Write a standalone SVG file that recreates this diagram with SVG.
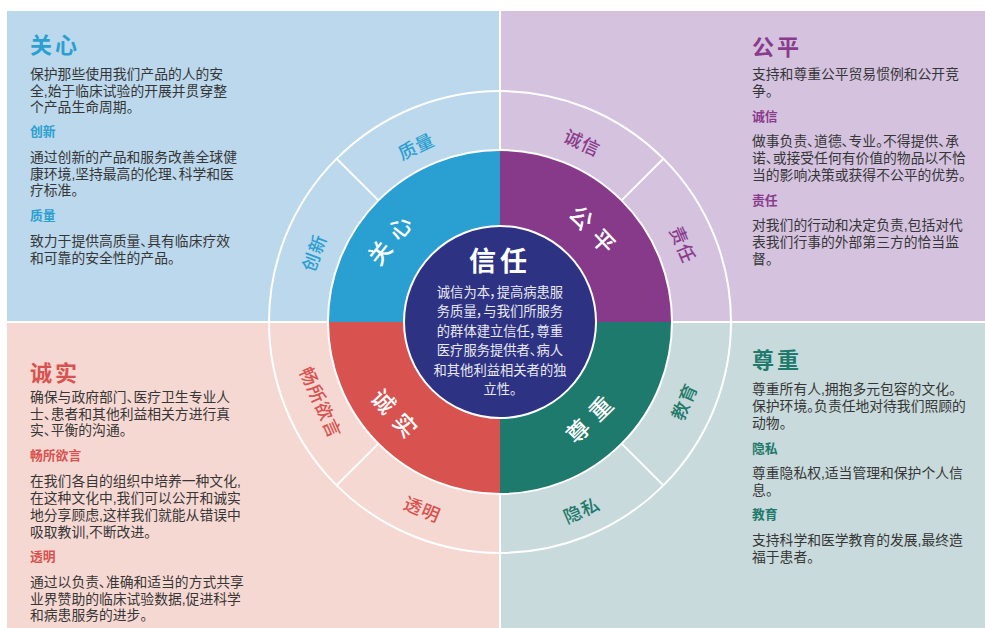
<svg xmlns="http://www.w3.org/2000/svg" width="985" height="628" viewBox="0 0 985 628">
<style>
text{font-family:"Liberation Sans","Noto Sans CJK SC",sans-serif;}
.body{font-size:13.8px;fill:#363636;font-feature-settings:"palt";}
.hd{font-size:12.8px;font-weight:700;}
.ttl{font-size:22px;font-weight:700;letter-spacing:3px;}
.ring{font-size:18px;font-weight:500;text-anchor:middle;dominant-baseline:central;letter-spacing:1px;}
.cal{font-size:23px;font-weight:500;fill:#fff;text-anchor:middle;dominant-baseline:central;letter-spacing:9px;}
.cen{font-size:13.3px;fill:#e8e8f2;text-anchor:middle;font-feature-settings:"palt";}
.wl{stroke:#fff;stroke-width:2;fill:none;}
.blue{fill:#2a9fd2;} .purp{fill:#8a3b8c;} .red{fill:#d8524f;} .teal{fill:#1f7a6c;}
</style>
<rect x="0" y="0" width="985" height="628" fill="#fff"/>
<g id="backgrounds">
<rect x="7" y="11" width="493" height="311" fill="#bcd8ec"/>
<rect x="500" y="11" width="485" height="311" fill="#d4c2df"/>
<rect x="7" y="322" width="493" height="306" fill="#f6d8d3"/>
<rect x="500" y="322" width="485" height="306" fill="#c8dadb"/>
<line class="wl" x1="500" y1="11" x2="500" y2="628"/>
<line class="wl" x1="7" y1="322" x2="985" y2="322"/>
</g>
<g id="ring-sectors">
<path d="M500,322 L328,322 A172,172 0 0 1 500,150 Z" fill="#2a9fd2"/>
<path d="M500,322 L500,150 A172,172 0 0 1 672,322 Z" fill="#873a8a"/>
<path d="M500,322 L672,322 A172,172 0 0 1 500,494 Z" fill="#1e7a6c"/>
<path d="M500,322 L500,494 A172,172 0 0 1 328,322 Z" fill="#d8524f"/>
<circle class="wl" cx="500" cy="322" r="231"/>
<circle class="wl" cx="500" cy="322" r="172"/>
</g>
<g id="connectors">
<line class="wl" x1="378.4" y1="200.4" x2="336.7" y2="158.7"/>
<line class="wl" x1="621.6" y1="200.4" x2="663.3" y2="158.7"/>
<line class="wl" x1="621.6" y1="443.6" x2="663.3" y2="485.3"/>
<line class="wl" x1="378.4" y1="443.6" x2="336.7" y2="485.3"/>
</g>
<g id="center">
<circle cx="500" cy="322" r="96" fill="#2d3382" stroke="#fff" stroke-width="2"/>
<text x="500" y="271" font-size="27" font-weight="700" fill="#fff" text-anchor="middle" letter-spacing="4">信任</text>
<text class="cen" x="500" y="296.5">诚信为本，提高病患服</text>
<text class="cen" x="500" y="316">务质量，与我们所服务</text>
<text class="cen" x="500" y="335.5">的群体建立信任，尊重</text>
<text class="cen" x="500" y="355">医疗服务提供者、病人</text>
<text class="cen" x="500" y="374.5">和其他利益相关者的独</text>
<text class="cen" x="500" y="394">立性。</text>
</g>
<g id="node-care">
<text class="cal" transform="translate(393,237) rotate(-51.5)">关心</text>
<text class="ring blue" transform="translate(416.5,147) rotate(-25.5)">质量</text>
<text class="ring blue" transform="translate(315,253) rotate(-69.5)">创新</text>
<text class="ttl blue" x="30" y="53">关心</text>
<text class="body" x="30" y="79">保护那些使用我们产品的人的安</text>
<text class="body" x="30" y="96">全,始于临床试验的开展并贯穿整</text>
<text class="body" x="30" y="112">个产品生命周期。</text>
<text class="hd blue" x="30" y="136">创新</text>
<text class="body" x="30" y="162">通过创新的产品和服务改善全球健</text>
<text class="body" x="30" y="179">康环境,坚持最高的伦理、科学和医</text>
<text class="body" x="30" y="195">疗标准。</text>
<text class="hd blue" x="30" y="220">质量</text>
<text class="body" x="30" y="246">致力于提供高质量、具有临床疗效</text>
<text class="body" x="30" y="263">和可靠的安全性的产品。</text>
</g>
<g id="node-fairness">
<text class="cal" transform="translate(595,233) rotate(47)">公平</text>
<text class="ring purp" transform="translate(582,143.5) rotate(24.6)">诚信</text>
<text class="ring purp" transform="translate(682,245) rotate(67)">责任</text>
<text class="ttl purp" x="752" y="55">公平</text>
<text class="body" x="752" y="79">支持和尊重公平贸易惯例和公开竞</text>
<text class="body" x="752" y="96">争。</text>
<text class="hd purp" x="752" y="121">诚信</text>
<text class="body" x="752" y="146">做事负责、道德、专业。不得提供、承</text>
<text class="body" x="752" y="163">诺、或接受任何有价值的物品以不恰</text>
<text class="body" x="752" y="180">当的影响决策或获得不公平的优势。</text>
<text class="hd purp" x="752" y="205">责任</text>
<text class="body" x="752" y="230">对我们的行动和决定负责,包括对代</text>
<text class="body" x="752" y="247">表我们行事的外部第三方的恰当监</text>
<text class="body" x="752" y="264">督。</text>
</g>
<g id="node-honesty">
<text class="cal" transform="translate(397,417) rotate(47.4)">诚实</text>
<text class="ring red" transform="translate(320,403) rotate(65.7)">畅所欲言</text>
<text class="ring red" transform="translate(422,510) rotate(22.6)">透明</text>
<text class="ttl red" x="30" y="381">诚实</text>
<text class="body" x="30" y="402">确保与政府部门、医疗卫生专业人</text>
<text class="body" x="30" y="419">士、患者和其他利益相关方进行真</text>
<text class="body" x="30" y="435">实、平衡的沟通。</text>
<text class="hd red" x="30" y="460">畅所欲言</text>
<text class="body" x="30" y="486">在我们各自的组织中培养一种文化,</text>
<text class="body" x="30" y="503">在这种文化中,我们可以公开和诚实</text>
<text class="body" x="30" y="520">地分享顾虑,这样我们就能从错误中</text>
<text class="body" x="30" y="537">吸取教训,不断改进。</text>
<text class="hd red" x="30" y="561">透明</text>
<text class="body" x="30" y="587">通过以负责、准确和适当的方式共享</text>
<text class="body" x="30" y="604">业界赞助的临床试验数据,促进科学</text>
<text class="body" x="30" y="620">和病患服务的进步。</text>
</g>
<g id="node-respect">
<text class="cal" transform="translate(593,417) rotate(-44.5)">尊重</text>
<text class="ring teal" transform="translate(685,402) rotate(-66.7)">教育</text>
<text class="ring teal" transform="translate(582,511) rotate(-23.3)">隐私</text>
<text class="ttl teal" x="752" y="368">尊重</text>
<text class="body" x="752" y="394">尊重所有人,拥抱多元包容的文化。</text>
<text class="body" x="752" y="411">保护环境。负责任地对待我们照顾的</text>
<text class="body" x="752" y="428">动物。</text>
<text class="hd teal" x="752" y="453">隐私</text>
<text class="body" x="752" y="478">尊重隐私权,适当管理和保护个人信</text>
<text class="body" x="752" y="495">息。</text>
<text class="hd teal" x="752" y="519">教育</text>
<text class="body" x="752" y="545">支持科学和医学教育的发展,最终造</text>
<text class="body" x="752" y="562">福于患者。</text>
</g>
</svg>
